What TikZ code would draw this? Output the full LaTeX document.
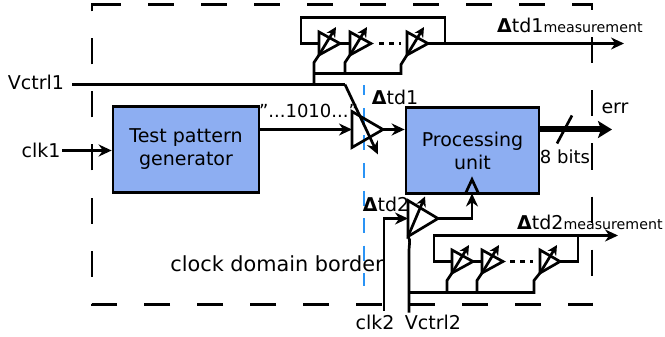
\documentclass[tikz,border=0pt]{standalone}
\usepackage{fontspec}
\setmainfont{DejaVu Sans}
\usetikzlibrary{arrows.meta}
\definecolor{boxblue}{HTML}{8DAEF2}
\definecolor{borderblue}{HTML}{2A93F5}
\newcommand{\txt}{\fontsize{19}{22}\selectfont}
\newcommand{\subtxt}{\fontsize{14.2}{17}\selectfont}
\newcommand{\dl}{{\bfseries Δ}}
% name, left x, centre y, half height, width
\newcommand{\bufbody}[5]{%
  \coordinate (#1-in) at (#2,#3);
  \coordinate (#1-top) at (#2,#3-#4);
  \coordinate (#1-bot) at (#2,#3+#4);
  \coordinate (#1-out) at (#2+#5,#3);
  \draw[wire,line join=miter] (#1-top) -- (#1-out) -- (#1-bot) -- cycle;
}
% name, arrow dx, arrow dy (from the lower corner)
\newcommand{\buftune}[3]{%
  \draw[wire,-{Stealth[length=10pt,width=10pt]}] (#1-bot) -- ++(#2,-#3);
}
\tikzset{
  wire/.style={line width=2.7pt,black},
  arrowwire/.style={wire,-{Stealth[length=13pt,width=12pt]}},
  block/.style={draw=black,line width=2.7pt,fill=boxblue,align=center,inner sep=0pt,font=\txt},
  label/.style={inner sep=0pt,font=\txt,text=black},
}
\begin{document}
\begin{tikzpicture}[x=1pt,y=-1pt,yshift=-0.5pt]
\useasboundingbox (0,-0.5) rectangle (665,336.5);
% frame and border
\draw[line width=2.7pt,dash pattern=on 26pt off 27pt] (95,4) -- (592,4) -- (592,304) -- (92,304) -- (92,4) -- cycle;
\coordinate (bt) at (364,85); \coordinate (bb) at (364,285);
\draw[line width=2.7pt,borderblue,dash pattern=on 15pt off 12.5pt,dash phase=5pt] (bt) -- (bb);
% blocks
\node[block,minimum width=146pt,minimum height=86pt] (tpg) at (186,149) {Test pattern\\[1pt]generator};
\node[block,minimum width=133pt,minimum height=86pt] (pu) at (472.5,150) {Processing\\[1pt]unit};
% labels
\node[label] (lv1) at (36,82) {Vctrl1};
\node[label] (lc1) at (41,150) {clk1};
\node[label] (lc2) at (375,322) {clk2};
\node[label] (lv2) at (433,322) {Vctrl2};
\node[label,font=\fontsize{20.8}{24}\selectfont] (lb) at (277,263) {clock domain border};
\node[label,font=\fontsize{18}{21}\selectfont] (lp) at (308.5,110.5) {"...1010..."};
\node[label] (ld1) at (395,97) {\dl td1};
\node[label] (ld2) at (386,204) {\dl td2};
\node[label,anchor=west] (lm1) at (497,25) {\dl td1{\subtxt measurement}};
\node[label,anchor=west] (lm2) at (517,222) {\dl td2{\subtxt measurement}};
\node[label] (lerr) at (615,108) {err};
\node[label,font=\fontsize{18}{21}\selectfont] (lbits) at (565,156) {8 bits};
% main buffers
\bufbody{d1}{352}{129}{18}{31}
\bufbody{d2}{408}{218}{18}{30}
\buftune{d2}{17}{40}
% oscillator 1
\bufbody{a1}{319}{43}{11.5}{21} \buftune{a1}{17}{28}
\bufbody{a2}{350}{43}{11.5}{21} \buftune{a2}{17}{28}
\bufbody{a3}{407}{43}{11.5}{21} \buftune{a3}{17}{28}
% oscillator 2
\bufbody{b1}{452}{261}{11.5}{21} \buftune{b1}{17}{28}
\bufbody{b2}{482}{261}{11.5}{21} \buftune{b2}{17}{28}
\bufbody{b3}{540}{261}{11.5}{20} \buftune{b3}{17}{28}
% oscillator 1 wiring
\coordinate (aend) at (624,43);
\draw[wire] (a3-out) -- (445,43) -- (445,17) -- (301,17) -- (301,43) -- (a1-in);
\draw[wire] (a1-out) -- (a2-in);
\draw[wire,dash pattern=on 5pt off 5pt] (a2-out) ++(8,0) -- (401,43);
\draw[arrowwire] (a3-out) -- (aend);
\coordinate (va) at (314,84);
\draw[wire] (va) -- (314,62) -- (a1-bot);
\draw[wire] (345,73) -- (345,62) -- (a2-bot);
\draw[wire] (314,73) -- (401,73) -- (401,64) -- (a3-bot);
% oscillator 2 wiring
\coordinate (bend) at (618,235);
\draw[wire] (b3-out) -- (578,261) -- (578,235) -- (434,235) -- (434,261) -- (b1-in);
\draw[wire] (b1-out) -- (b2-in);
\draw[wire,dash pattern=on 5pt off 5pt] (b2-out) ++(7,0) -- (533,261);
\draw[arrowwire] (578,235) -- (bend);
\draw[wire] (447,292) -- (447,280) -- (b1-bot);
\draw[wire] (477,292) -- (477,280) -- (b2-bot);
\draw[wire] (409,292) -- (534,292) -- (534,280) -- (b3-bot);
% Vctrl1
\coordinate (vs) at (72,84);
\coordinate (vk) at (345,84);
\coordinate (vt) at (378,154);
\draw[wire] (vs) -- (vk);
\draw[arrowwire] (vk) -- (vt);
% main signal path
\coordinate (tpgout) at (tpg.east |- d1-in);
\draw[arrowwire] (tpgout) -- (d1-in);
\draw[arrowwire] (d1-out) -- (pu.west |- d1-out);
\coordinate (c1s) at (62,150);
\draw[arrowwire] (c1s) -- (tpg.west |- c1s);
% clk2 and Vctrl2
\coordinate (c2s) at (384,310);
\draw[arrowwire] (c2s) -- (384,218) -- (d2-in);
\coordinate (v2s) at (409,312);
\draw[wire] (v2s) -- (409,250) .. controls (409,244) and (411,240) .. (d2-bot);
% delay output to clock input of processing unit
\coordinate (ckb) at (472,193);
\coordinate (ckt) at (472,179);
\draw[wire,line join=miter] (465.5,193) -- (ckt) -- (478.5,193);
\draw[arrowwire] (d2-out) -- (472,218) -- (ckb);
% err
\coordinate (eend) at (612,129);
\draw[line width=6pt,-{Stealth[length=14pt,width=17pt,inset=3pt]}] (pu.east |- eend) -- (eend);
\coordinate (sa) at (572,115); \coordinate (sb) at (557,143);
\draw[wire] (sa) -- (sb);
\end{tikzpicture}
\end{document}
